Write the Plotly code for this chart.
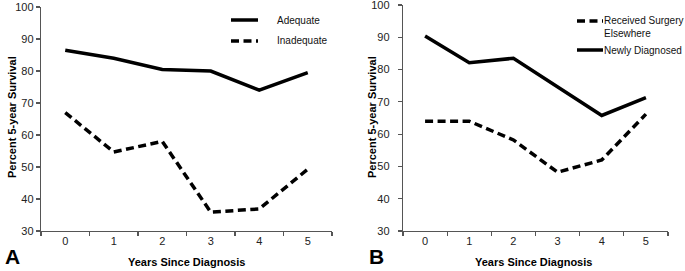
import plotly.graph_objects as go

years = ["0", "1", "2", "3", "4", "5"]
adequate = [86.5, 84.0, 80.5, 80.0, 74.0, 79.5]
inadequate = [67.0, 54.7, 58.0, 35.9, 36.9, 49.3]
surgery_elsewhere = [64.0, 64.0, 58.2, 48.2, 52.0, 66.2]
newly_diagnosed = [90.4, 82.1, 83.5, 74.5, 65.8, 71.3]
y_ticks = [30, 40, 50, 60, 70, 80, 90, 100]

W, H = 685, 271
FONT = "Liberation Sans, Arial, sans-serif"
LW = 3.5
DASH = "8px,4.5px"

fig = go.Figure()
fig.add_trace(go.Scatter(x=years, y=adequate, mode="lines", name="Adequate",
                         line=dict(color="black", width=LW), xaxis="x", yaxis="y"))
fig.add_trace(go.Scatter(x=years, y=inadequate, mode="lines", name="Inadequate",
                         line=dict(color="black", width=LW, dash=DASH), xaxis="x", yaxis="y"))
fig.add_trace(go.Scatter(x=years, y=surgery_elsewhere, mode="lines",
                         name="Received Surgery Elsewhere",
                         line=dict(color="black", width=LW, dash=DASH), xaxis="x2", yaxis="y2"))
fig.add_trace(go.Scatter(x=years, y=newly_diagnosed, mode="lines", name="Newly Diagnosed",
                         line=dict(color="black", width=LW), xaxis="x2", yaxis="y2"))


def px_x(p):
    return p / W


def px_y(p):
    return (H - p) / H


axis_common = dict(showgrid=False, zeroline=False, showline=True, linecolor="#555",
                   linewidth=1.2, ticks="outside", ticklen=4, tickcolor="#555", tickwidth=1.2,
                   automargin=False, ticklabeloverflow="allow",
                   tickfont=dict(family=FONT, size=11, color="#222"))

fig.update_layout(
    width=W, height=H,
    margin=dict(l=0, r=0, t=0, b=0, pad=0),
    paper_bgcolor="white", plot_bgcolor="white",
    font=dict(family=FONT, color="black"),
    showlegend=False,
    hovermode=False,
    xaxis=dict(domain=[px_x(41), px_x(332)], anchor="y", type="category",
               range=[-0.5, 5.5], tickson="boundaries", **axis_common),
    yaxis=dict(domain=[px_y(231), px_y(7)], anchor="x", range=[30, 100],
               tickvals=y_ticks, **axis_common),
    xaxis2=dict(domain=[px_x(403), px_x(668)], anchor="y2", type="category",
                range=[-0.5, 5.5], tickson="boundaries", **axis_common),
    yaxis2=dict(domain=[px_y(231), px_y(5)], anchor="x2", range=[30, 100],
                tickvals=y_ticks, ticklabelstandoff=6, **axis_common),
)

# legend samples (drawn manually to match the original's placement)
legend_items = [
    # (x0, x1, y, dashed)
    (231, 258, 20, False),
    (231, 258, 41, True),
    (577, 603, 21, True),
    (577, 603, 50, False),
]
shapes = []
for x0, x1, y, dashed in legend_items:
    shapes.append(dict(type="line", xref="paper", yref="paper",
                       x0=px_x(x0), x1=px_x(x1), y0=px_y(y), y1=px_y(y),
                       line=dict(color="black", width=LW, dash=DASH if dashed else "solid")))
fig.update_layout(shapes=shapes)

ann_font = dict(family=FONT, size=11, color="black")
leg_font = dict(family=FONT, size=10, color="#111")
annotations = [
    dict(text="<b>Years Since Diagnosis</b>", x=px_x(186), y=px_y(262), font=ann_font),
    dict(text="<b>Years Since Diagnosis</b>", x=px_x(533), y=px_y(262), font=ann_font),
    dict(text="<b>Percent 5-year Survival</b>", x=px_x(12), y=px_y(117), textangle=-90, font=ann_font),
    dict(text="<b>Percent 5-year Survival</b>", x=px_x(372), y=px_y(117), textangle=-90, font=ann_font),
    dict(text="Adequate", x=px_x(275), y=px_y(20), xanchor="left", font=leg_font),
    dict(text="Inadequate", x=px_x(275), y=px_y(41), xanchor="left", font=leg_font),
    dict(text="Received Surgery<br>Elsewhere", x=px_x(602), y=px_y(27), xanchor="left",
         align="left", font=leg_font),
    dict(text="Newly Diagnosed", x=px_x(602), y=px_y(50), xanchor="left", font=leg_font),
    dict(text="<b>A</b>", x=px_x(12), y=0, yanchor="bottom", yshift=1,
         font=dict(family=FONT, size=21, color="black")),
    dict(text="<b>B</b>", x=px_x(376), y=0, yanchor="bottom", yshift=1,
         font=dict(family=FONT, size=21, color="black")),
]
for a in annotations:
    a.setdefault("xanchor", "center")
    a.setdefault("yanchor", "middle")
    a.update(xref="paper", yref="paper", showarrow=False)
fig.update_layout(annotations=annotations)

# remove the browser's default 8px page margin so the 685x271 figure fills the window
fig.write_html("out.html", config={"displayModeBar": False, "staticPlot": True},
               post_script="document.body.style.margin='0px';")
